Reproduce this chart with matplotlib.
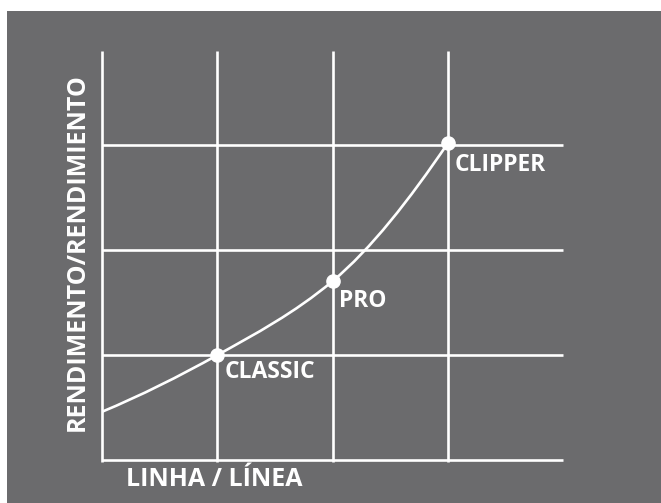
import matplotlib
matplotlib.use("Agg")
import matplotlib.pyplot as plt
from matplotlib.patches import Rectangle, PathPatch
from matplotlib.path import Path
import numpy as np

# Data
products = ["CLASSIC", "PRO", "CLIPPER"]
line_x = [0, 1, 2, 3]            # LINHA position
perf_y = [0.46, 1.0, 1.705, 3.02]  # RENDIMENTO (curve start + products)
grid_x = [1, 2, 3]
grid_y = [1, 2, 3]
x_label = "LINHA / LÍNEA"
y_label = "RENDIMENTO/RENDIMIENTO"

BG = "#6b6b6d"
W, H = 661, 503
fig = plt.figure(figsize=(W / 100, H / 100), dpi=100)
fig.patch.set_facecolor("white")
fig.patches.append(Rectangle((7 / W, 0), 1 - 7 / W, 1 - 11 / H, transform=fig.transFigure,
                             facecolor=BG, edgecolor="none", zorder=-10))

ax = fig.add_axes([102 / W, (H - 460) / H, 461 / W, 409 / H])
ax.set_xlim(0, 4)
ax.set_ylim(0, 3.9)
ax.set_axis_off()
ax.patch.set_visible(False)

lw = 1.9
for gx in [0] + grid_x:
    ax.plot([gx, gx], [-0.02, 3.9], color="white", lw=lw, solid_capstyle="butt", clip_on=False)
for gy in [0] + grid_y:
    ax.plot([0, 4], [gy, gy], color="white", lw=lw, solid_capstyle="butt", clip_on=False)

# smooth monotone (PCHIP-style) curve through the points, drawn as cubic Bezier path
xs = np.array(line_x, float)
ys = np.array(perf_y, float)
h = np.diff(xs)
d = np.diff(ys) / h
m = np.zeros_like(ys)
for k in range(1, len(xs) - 1):
    m[k] = 2 / (1 / d[k - 1] + 1 / d[k])
m[0] = ((2 * h[0] + h[1]) * d[0] - h[0] * d[1]) / (h[0] + h[1])
m[-1] = ((2 * h[-1] + h[-2]) * d[-1] - h[-1] * d[-2]) / (h[-1] + h[-2])
verts = [(xs[0], ys[0])]
codes = [Path.MOVETO]
for k in range(len(xs) - 1):
    verts += [(xs[k] + h[k] / 3, ys[k] + m[k] * h[k] / 3),
              (xs[k + 1] - h[k] / 3, ys[k + 1] - m[k + 1] * h[k] / 3),
              (xs[k + 1], ys[k + 1])]
    codes += [Path.CURVE4] * 3
ax.add_patch(PathPatch(Path(verts, codes), facecolor="none", edgecolor="white", lw=1.9, zorder=3))

ax.plot(line_x[1:], perf_y[1:], "o", color="white", markersize=9.5, zorder=4, clip_on=False)

offsets = [(7, -23), (6, -26), (7, -28)]
font = dict(family="Open Sans", weight="bold", color="white")
for name, x, y, off in zip(products, line_x[1:], perf_y[1:], offsets):
    ax.annotate(name, (x, y), xytext=off, textcoords="offset pixels",
                ha="left", va="baseline", fontsize=16.5, zorder=5, **font)

fig.text(126 / W, (H - 486) / H, x_label, ha="left", va="baseline", fontsize=18, **font)
fig.text(77 / W, (H - 252) / H, y_label, ha="center", va="center", rotation=90, fontsize=18, **font)

fig.savefig("out.png", dpi=100, facecolor=fig.get_facecolor())
